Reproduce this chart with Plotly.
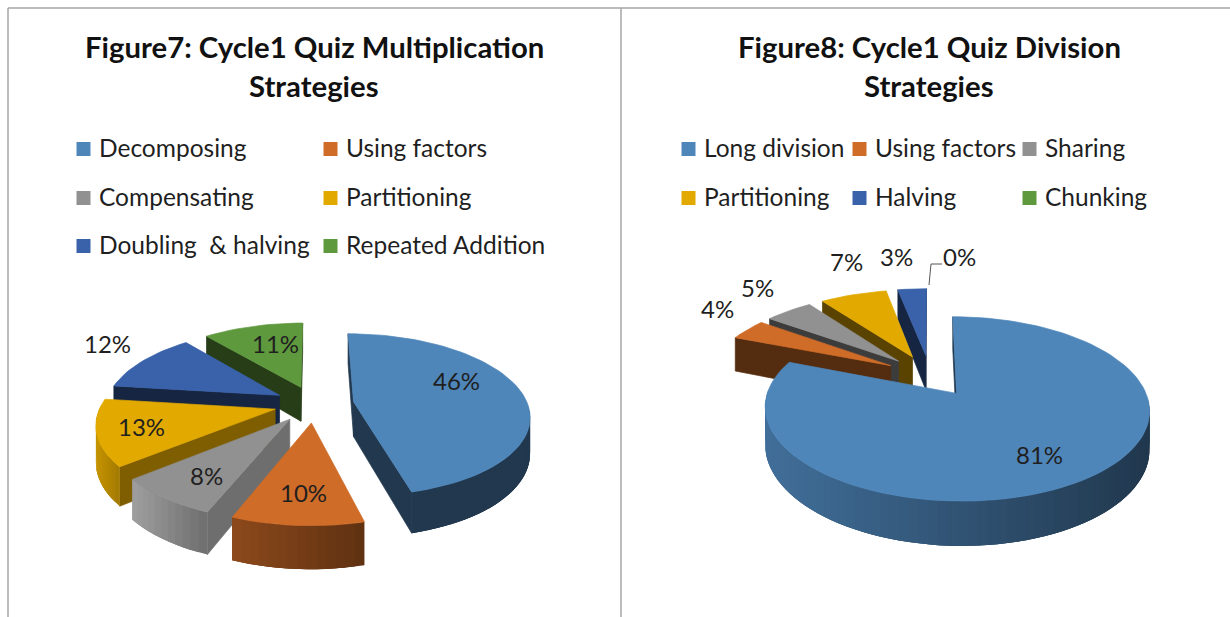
import math
import plotly.graph_objects as go

# ---------- data ----------
titles = [["Figure7: Cycle1 Quiz Multiplication", "Strategies"], ["Figure8: Cycle1 Quiz Division", "Strategies"]]
mult_categories = ["Decomposing", "Using factors", "Compensating", "Partitioning", "Doubling  & halving", "Repeated Addition"]
mult_values = [46, 10, 8, 13, 12, 11]
div_categories = ["Long division", "Using factors", "Sharing", "Partitioning", "Halving", "Chunking"]
div_values = [81, 4, 5, 7, 3, 0]

# ---------- styles ----------
mult_colors = ["#4F86BA", "#CF6C28", "#919191", "#E2A900", "#3A62AA", "#5F993E"]
div_colors = ["#4F86BA", "#CF6C28", "#919191", "#E2A900", "#3A62AA", "#5F993E"]
mult_face = [0.42, 0.45, 0.76, 0.56, 0.39, 0.40]
div_face = [0.42, 0.41, 0.42, 0.40, 0.39, 0.40]
mult_wall = [(0.42, 0.42), (0.68, 0.46), (1.10, 0.76), (0.88, 0.72), (0.39, 0.39), (0.40, 0.40)]
div_wall = [(0.83, 0.42), (0.41, 0.41), (0.42, 0.42), (0.40, 0.40), (0.39, 0.39), (0.40, 0.40)]
mult_geom = dict(cx=314, cy=404, rx=174, ry=79.5, k=0.16, e=0.23, h=35)
div_geom = dict(cx=930, cy=375.5, rx=183, ry=83.6, k=0.163, e=0.25, h=36)
mult_label_pos = [(456, 380), (303, 492), (206, 475), (141, 426), (107, 343), (275, 343)]
div_label_pos = [(1039, 454), (717, 308), (757, 287), (846, 261), (896, 256), (959, 256)]
mult_legend = [(83.5, 149, 97), (330.5, 149, 344), (83.5, 198, 97), (330.5, 198, 344), (83.5, 246, 97), (330.5, 246, 344)]
div_legend = [(688.5, 149, 702), (859.5, 149, 873), (1029.5, 149, 1043), (688.5, 198, 702), (859.5, 198, 873), (1029.5, 198, 1043)]
TEXT = "#1f1f1f"
FONT = "Lato"

fig = go.Figure()


def shade(color, f):
    r, g, b = int(color[1:3], 16), int(color[3:5], 16), int(color[5:7], 16)
    return "rgb(%d,%d,%d)" % (min(255, r * f), min(255, g * f), min(255, b * f))


def poly(pts, color, width=0.7):
    fig.add_trace(go.Scatter(
        x=[p[0] for p in pts] + [pts[0][0]], y=[p[1] for p in pts] + [pts[0][1]],
        mode="lines", fill="toself", fillcolor=color,
        line=dict(color=color, width=width), hoverinfo="skip", showlegend=False))


def draw_pie(values, colors, faces, walls, g):
    total = sum(values)

    def proj(X, Y):
        s = 1 / (1 + g["k"] * Y)
        return g["cx"] + g["rx"] * X * s, g["cy"] - g["ry"] * Y * s, s

    def low(p):
        return p[0], p[1] + g["h"] * p[2]

    slices = []
    cum = 0
    for v, c, f, w in zip(values, colors, faces, walls):
        a0 = 2 * math.pi * cum / total
        a1 = 2 * math.pi * (cum + v) / total
        cum += v
        if v == 0:
            continue
        mid = (a0 + a1) / 2
        ox, oy = g["e"] * math.sin(mid), g["e"] * math.cos(mid)
        slices.append((proj(ox, oy)[1], a0, a1, ox, oy, c, f, w))
    slices.sort(key=lambda t: t[0])

    for _, a0, a1, ox, oy, c, f, w in slices:
        def P(a, r=1.0):
            return proj(ox + r * math.sin(a), oy + r * math.cos(a))
        A = proj(ox, oy)
        n = max(2, int((a1 - a0) / math.radians(2.5)))
        arc = [a0 + (a1 - a0) * i / n for i in range(n + 1)]
        xs = [P(a)[0] for a in arc]
        xmin, xmax = min(xs), max(xs)

        # radial cut faces that look towards the viewer
        for edge, inner in ((a0, a0 + 0.02), (a1, a1 - 0.02)):
            E = P(edge)
            Q = P(inner, 0.5)
            dx, dy = E[0] - A[0], E[1] - A[1]
            cross_in = dx * (Q[1] - A[1]) - dy * (Q[0] - A[0])
            if cross_in * dx < 0:
                poly([A[:2], E[:2], low(E), low(A)], shade(c, f))

        # outer wall: overlapping bands, painted in order, so no seam shows
        for i in range(n):
            am = (arc[i] + arc[i + 1]) / 2
            if math.cos(am) + g["k"] * 0.5 > 0.02:
                continue
            j = min(i + 3, n)
            band = [P(arc[m]) for m in range(i, j + 1)]
            t = (P(am)[0] - xmin) / max(1, xmax - xmin)
            poly([b[:2] for b in band] + [low(b) for b in reversed(band)],
                 shade(c, w[0] + (w[1] - w[0]) * t), width=0)

        # top face
        poly([A[:2]] + [P(a)[:2] for a in arc], c)


def annotate(x, y, text, size, anchor="center", bold=False, color=TEXT):
    fig.add_annotation(x=x, y=y, xref="x", yref="y", text=("<b>%s</b>" % text) if bold else text,
                       showarrow=False, xanchor=anchor, yanchor="middle", align="center",
                       font=dict(family=FONT, size=size, color=color))


for vals, cats, cols, faces, walls, geom, lab_pos, leg in (
    (mult_values, mult_categories, mult_colors, mult_face, mult_wall, mult_geom, mult_label_pos, mult_legend),
    (div_values, div_categories, div_colors, div_face, div_wall, div_geom, div_label_pos, div_legend),
):
    draw_pie(vals, cols, faces, walls, geom)
    for v, (x, y) in zip(vals, lab_pos):
        annotate(x, y, "%d%%" % v, 24)
    for cat, col, (mx, my, tx) in zip(cats, cols, leg):
        fig.add_trace(go.Scatter(x=[mx], y=[my], mode="markers", name=cat, hoverinfo="skip", showlegend=False,
                                 marker=dict(symbol="square", size=14, color=col)))
        annotate(tx, my - 2, cat, 24.5, anchor="left")

for cx, lines in zip((314, 929), titles):
    annotate(cx, 46, lines[0], 29.3, bold=True, color="#111111")
    annotate(cx, 85, lines[1], 29.3, bold=True, color="#111111")

# leader line for the 0% label
fig.add_trace(go.Scatter(x=[929, 931, 942], y=[285, 264, 264], mode="lines",
                         line=dict(color="#555555", width=1), hoverinfo="skip", showlegend=False))

# chart frames
frame = "#a6a6a6"
for x0, y0, x1, y1 in ((8, 8, 1230, 8), (8, 8, 8, 617), (621, 8, 621, 617)):
    fig.add_shape(type="line", x0=x0, y0=y0, x1=x1, y1=y1, xref="x", yref="y", line=dict(color=frame, width=1.5))

fig.update_layout(
    width=1230, height=617, margin=dict(l=0, r=0, t=0, b=0),
    paper_bgcolor="white", plot_bgcolor="white", showlegend=False,
    xaxis=dict(range=[0, 1230], visible=False, fixedrange=True),
    yaxis=dict(range=[617, 0], visible=False, fixedrange=True),
)
fig.write_html("out.html", config={"displayModeBar": False},
               post_script="document.body.style.margin='0';document.body.style.overflow='hidden';")
